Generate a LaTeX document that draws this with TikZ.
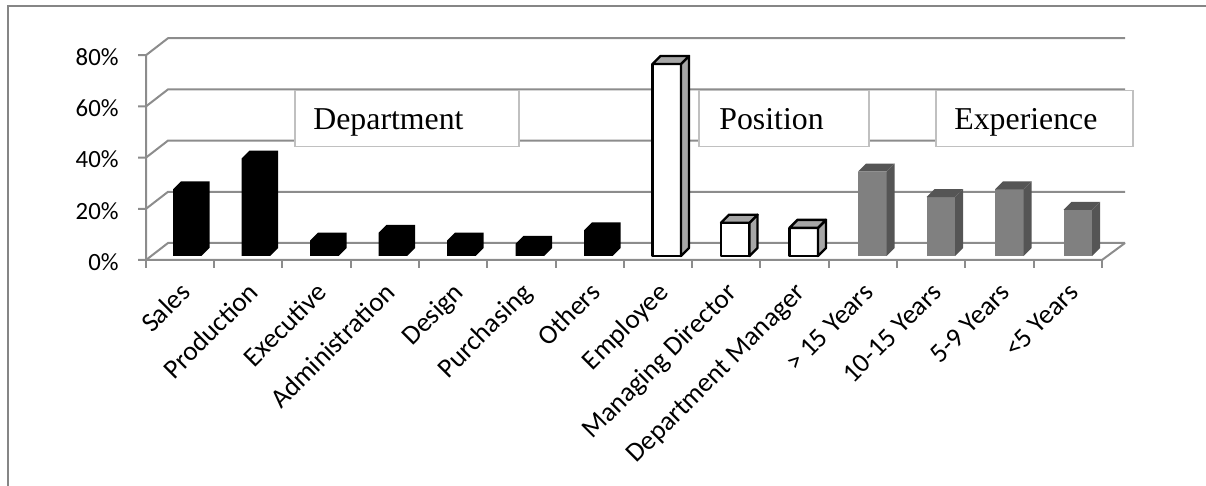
\documentclass[tikz,border=0pt]{standalone}
\usepackage{fontspec}
\setmainfont{Liberation Serif}
\newfontfamily\calibri{Carlito}
\usepackage{tikz}
\usetikzlibrary{calc}
\definecolor{axisgray}{RGB}{140,140,140}
\definecolor{framegray}{RGB}{134,134,134}
\definecolor{boxgray}{RGB}{192,192,192}
\definecolor{sidegray}{RGB}{166,166,166}
\definecolor{expfront}{RGB}{128,128,128}
\definecolor{expside}{RGB}{85,85,85}

\begin{document}
\begin{tikzpicture}[x=0.5pt,y=-0.5pt,
    grid/.style={draw=axisgray, line width=1pt},
    legendbox/.style={draw=boxgray, fill=white, line width=0.75pt, inner sep=0pt, anchor=north west, minimum height=28pt},
    legendtext/.style={font=\fontsize{15.9}{18}\selectfont, anchor=base west, inner sep=0pt},
    catlabel/.style={font=\calibri\fontsize{13.6}{15}\selectfont, rotate=45, anchor=base east, inner sep=0pt},
    ylabel/.style={font=\calibri\fontsize{12.4}{14}\selectfont, anchor=east, inner sep=0pt},
    posbar/.style={draw=black, line width=1.2pt, line join=round}]
    \useasboundingbox (0,0) rectangle (1206,486);
    %%frame
    \draw[framegray, line width=0.75pt] (8,486) -- (8,6) -- (1206,6);
    %%walls_and_gridlines
    \foreach \v in {0,20,...,80}{
        \draw[grid] (138,260-2.56*\v) -- (146,260-2.56*\v) -- (168,243-2.56*\v) -- (1125,243-2.56*\v);
        \node[ylabel] (y\v) at (119,262-2.56*\v) {\v\%};
    }
    \draw[grid] (146,55.2) -- (146,260) -- (1102,260) -- (1125,243);
    \foreach \i in {0,...,14}
        \draw[grid] (145.7+68.3*\i,260) -- (145.7+68.3*\i,268);
    %%legend_boxes
    \node[legendbox, minimum width=112pt] (deptbox) at (294,90) {};
    \node[legendbox, minimum width=85pt] (posbox) at (698,90) {};
    \node[legendbox, minimum width=98.5pt] (expbox) at (935,90) {};
    \node[legendtext] (depttext) at (313,129.5) {Department};
    \node[legendtext] (postext) at (719,129.5) {Position};
    \node[legendtext] (exptext) at (954,129.5) {Experience};
    %%department_bars
    \foreach \v [count=\i from 0] in {26,38,6,9,6,4.7,10}{
        \pgfmathsetmacro{\L}{173+68.5*\i}
        \pgfmathsetmacro{\T}{256-2.56*\v}
        \fill[black] (\L,256) -- (\L,\T) -- (\L+8,\T-8) -- (\L+36.5,\T-8)
            -- (\L+36.5,248) -- (\L+28.5,256) -- cycle;
    }
    %%position_bars
    \foreach \v [count=\i from 7] in {75,13,11}{
        \pgfmathsetmacro{\L}{173+68.5*\i}
        \pgfmathsetmacro{\T}{256-2.56*\v}
        \filldraw[posbar, fill=white] (\L,256) rectangle (\L+28.5,\T);
        \filldraw[posbar, fill=sidegray] (\L+28.5,256) -- (\L+28.5,\T) -- (\L+36.5,\T-8) -- (\L+36.5,248) -- cycle;
        \filldraw[posbar, fill=sidegray] (\L,\T) -- (\L+8,\T-8) -- (\L+36.5,\T-8) -- (\L+28.5,\T) -- cycle;
    }
    %%experience_bars
    \foreach \v [count=\i from 10] in {33,23,26,18}{
        \pgfmathsetmacro{\L}{173+68.5*\i}
        \pgfmathsetmacro{\T}{256-2.56*\v}
        \fill[expfront] (\L,256) rectangle (\L+28.5,\T);
        \fill[expside] (\L+28.5,256) -- (\L+28.5,\T) -- (\L+36.5,\T-8) -- (\L+36.5,248) -- cycle;
        \fill[expside] (\L,\T) -- (\L+8,\T-8) -- (\L+36.5,\T-8) -- (\L+28.5,\T) -- cycle;
    }
    %%category_labels
    \foreach \name [count=\i from 0] in {Sales,Production,Executive,Administration,Design,Purchasing,Others,Employee,Managing Director,Department Manager,> 15 Years,10-15 Years,5-9 Years,<5 Years}
        \node[catlabel] (cat\i) at (192+68.3*\i,294) {\name};
\end{tikzpicture}
\end{document}
